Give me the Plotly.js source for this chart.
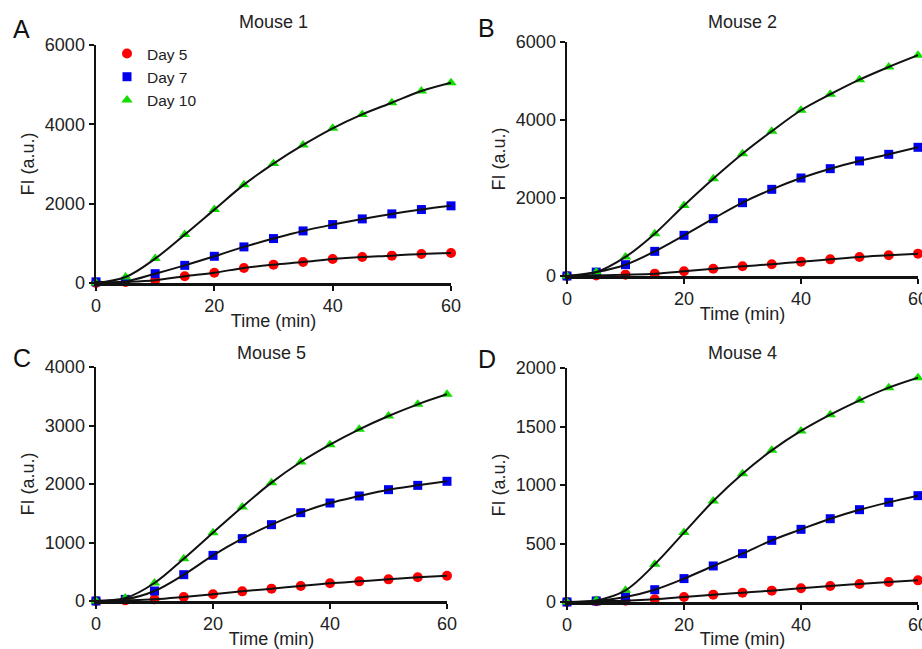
<!DOCTYPE html>
<html>
<head>
<meta charset="utf-8">
<script src="https://cdn.plot.ly/plotly-3.0.1.min.js"></script>
<style>html,body{margin:0;padding:0;background:#fff;}#chart{width:922px;height:649px;}</style>
</head>
<body>
<div id="chart"></div>
<script>
const time = [0, 5, 10, 15, 20, 25, 30, 35, 40, 45, 50, 55, 60];
const seriesNames = ['Day 5', 'Day 7', 'Day 10'];
const panelLetters = ['A', 'B', 'C', 'D'];
const panelTitles = ['Mouse 1', 'Mouse 2', 'Mouse 5', 'Mouse 4'];
const yMax = [6000, 6000, 4000, 2000];
const yTicks = [[0, 2000, 4000, 6000], [0, 2000, 4000, 6000], [0, 1000, 2000, 3000, 4000], [0, 500, 1000, 1500, 2000]];
const xTicks = [0, 20, 40, 60];

// Mouse 1
const m1Day5  = [0, 25, 70, 170, 260, 380, 463, 530, 606, 657, 690, 732, 758];
const m1Day7  = [30, 40, 235, 445, 673, 910, 1120, 1313, 1473, 1616, 1742, 1852, 1945];
const m1Day10 = [0, 150, 615, 1220, 1850, 2480, 3010, 3480, 3900, 4250, 4545, 4840, 5050];
// Mouse 2
const m2Day5  = [0, 15, 35, 60, 120, 188, 248, 300, 368, 427, 487, 530, 573];
const m2Day7  = [0, 100, 290, 632, 1043, 1470, 1880, 2222, 2513, 2752, 2950, 3120, 3300];
const m2Day10 = [0, 100, 490, 1085, 1810, 2495, 3135, 3710, 4250, 4660, 5035, 5360, 5660];
// Mouse 5
const m5Day5  = [0, 11, 28, 68, 114, 165, 211, 256, 302, 336, 370, 405, 433];
const m5Day7  = [0, 28, 171, 450, 780, 1066, 1305, 1510, 1675, 1795, 1903, 1977, 2046];
const m5Day10 = [0, 50, 308, 724, 1168, 1607, 2023, 2376, 2672, 2934, 3162, 3362, 3533];
// Mouse 4
const m4Day5  = [0, 6, 11, 23, 43, 63, 80, 97, 117, 137, 154, 171, 185];
const m4Day7  = [0, 9, 43, 105, 200, 308, 413, 527, 621, 712, 789, 852, 909];
const m4Day10 = [0, 14, 100, 322, 593, 863, 1097, 1296, 1462, 1601, 1724, 1832, 1917];

const panels = [
  [m1Day5, m1Day7, m1Day10],
  [m2Day5, m2Day7, m2Day10],
  [m5Day5, m5Day7, m5Day10],
  [m4Day5, m4Day7, m4Day10]
];

const colors = ['#ff0000', '#0000ee', '#11dd00'];
const symbols = ['circle', 'square', 'triangle-up'];
const msizes = [10, 9, 10];

const W = 922, H = 649;
const xDom = [[96, 451], [567, 918], [96, 447], [567, 918]];
const yDom = [[45, 283], [42, 276], [367, 601], [368, 602]];
const titleY = [22, 22, 353, 353];
const letterPos = [[11, 29], [476, 28], [11, 358], [476, 359]];

const FONT = 'Liberation Sans, Arial, Helvetica, sans-serif';
const FS = 18;
const traces = [];
const layout = {
  width: W, height: H,
  margin: {l: 0, r: 0, t: 0, b: 0},
  paper_bgcolor: '#fff', plot_bgcolor: '#fff',
  font: {family: FONT, color: '#222', size: FS},
  showlegend: true,
  legend: {x: 107 / W, y: 1 - 37 / H, xanchor: 'left', yanchor: 'top', bgcolor: 'rgba(0,0,0,0)',
           font: {size: 15.5, color: '#222'}, tracegroupgap: 0, itemwidth: 30},
  annotations: []
};

panels.forEach((p, i) => {
  const n = i + 1;
  const xa = n === 1 ? 'x' : 'x' + n;
  const ya = n === 1 ? 'y' : 'y' + n;
  p.forEach((vals, s) => {
    traces.push({
      x: time, y: vals, xaxis: xa, yaxis: ya, type: 'scatter', mode: 'markers',
      name: seriesNames[s], showlegend: i === 0, legendgroup: seriesNames[s],
      cliponaxis: false,
      marker: {color: colors[s], symbol: symbols[s], size: msizes[s], line: {width: 0}}
    });
  });
  p.forEach((vals, s) => {
    traces.push({
      x: time, y: vals, xaxis: xa, yaxis: ya, type: 'scatter', mode: 'lines',
      showlegend: false, hoverinfo: 'skip', cliponaxis: false,
      line: {color: '#111', width: 2, shape: 'spline', smoothing: 1}
    });
  });
  const axX = {
    domain: [xDom[i][0] / W, xDom[i][1] / W], range: [0, 60], anchor: ya,
    tickvals: xTicks, ticks: 'outside', ticklen: 5, tickwidth: 2, tickcolor: '#111',
    showline: true, linecolor: '#111', linewidth: 2.5, showgrid: false, zeroline: false,
    ticklabeloverflow: 'allow',
    tickfont: {size: FS, color: '#222'},
    title: {text: 'Time (min)', font: {size: FS, color: '#222'}, standoff: 0}
  };
  const axY = {
    domain: [1 - yDom[i][1] / H, 1 - yDom[i][0] / H], range: [0, yMax[i]], anchor: xa,
    tickvals: yTicks[i], ticks: 'outside', ticklen: 5, tickwidth: 2, tickcolor: '#111',
    showline: true, linecolor: '#111', linewidth: 2.5, showgrid: false, zeroline: false,
    ticklabeloverflow: 'allow',
    tickfont: {size: FS, color: '#222'},
    title: {text: 'FI (a.u.)', font: {size: FS, color: '#222'}, standoff: 6}
  };
  layout[n === 1 ? 'xaxis' : 'xaxis' + n] = axX;
  layout[n === 1 ? 'yaxis' : 'yaxis' + n] = axY;
  const midX = (xDom[i][0] + xDom[i][1]) / 2 / W;
  layout.annotations.push({
    xref: 'paper', yref: 'paper', x: midX, y: 1 - titleY[i] / H,
    text: panelTitles[i], showarrow: false, xanchor: 'center', yanchor: 'middle',
    font: {size: FS, color: '#222'}
  });
  layout.annotations.push({
    xref: 'paper', yref: 'paper', x: letterPos[i][0] / W, y: 1 - letterPos[i][1] / H,
    text: panelLetters[i], showarrow: false, xanchor: 'left', yanchor: 'middle',
    font: {size: 25, color: '#111'}
  });
});

Plotly.newPlot('chart', traces, layout, {displayModeBar: false, staticPlot: true});
</script>
</body>
</html>
